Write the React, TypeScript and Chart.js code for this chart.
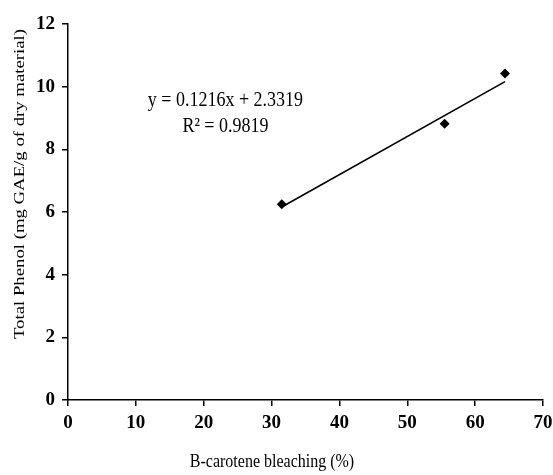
import React, { useEffect, useRef } from "react";
import { Chart, registerables } from "chart.js";

Chart.register(...registerables);

// Data
const pointX = [31.5, 55.5, 64.4];
const pointY = [6.25, 8.82, 10.42];
const trendX = [31.5, 64.4];
const trendY = [6.16, 10.16];
const xTicks = [0, 10, 20, 30, 40, 50, 60, 70];
const yTicks = [0, 2, 4, 6, 8, 10, 12];
const xTitle = "B-carotene bleaching (%)";
const yTitle = "Total Phenol (mg GAE/g of dry material)";
const eqLine1 = "y = 0.1216x + 2.3319";
const eqLine2 = "R² = 0.9819";

const SERIF = "'Liberation Serif', 'Times New Roman', serif";

const textPlugin = {
  id: "customText",
  afterDraw(chart: any) {
    const ctx = chart.ctx as CanvasRenderingContext2D;
    const xs = chart.scales.x;
    const ys = chart.scales.y;
    ctx.save();
    ctx.fillStyle = "#000";
    ctx.textAlign = "center";
    ctx.textBaseline = "middle";

    // Equation text anchored in data space
    const ex = xs.getPixelForValue(23.2);
    const ey1 = ys.getPixelForValue(9.55);
    const ey2 = ys.getPixelForValue(8.72);
    ctx.font = `18px ${SERIF}`;
    ctx.save();
    ctx.translate(ex, ey1);
    ctx.scale(1, 1.2);
    ctx.fillText(eqLine1, 0, 0);
    ctx.restore();
    ctx.save();
    ctx.translate(ex, ey2);
    ctx.scale(1, 1.2);
    ctx.fillText(eqLine2, 0, 0);
    ctx.restore();

    // X title
    ctx.font = `16px ${SERIF}`;
    ctx.save();
    ctx.translate(272, 462);
    ctx.scale(1, 1.15);
    ctx.fillText(xTitle, 0, 0);
    ctx.restore();

    // Y title (rotated)
    ctx.font = `15px ${SERIF}`;
    ctx.save();
    ctx.translate(20, 184);
    ctx.rotate(-Math.PI / 2);
    ctx.scale(1.25, 1);
    ctx.fillText(yTitle, 0, 0);
    ctx.restore();

    ctx.restore();
  },
};

export default function App() {
  const ref = useRef<HTMLCanvasElement>(null);

  useEffect(() => {
    document.body.style.margin = "0";
    const canvas = ref.current!;
    const chart = new Chart(canvas, {
      type: "scatter",
      data: {
        datasets: [
          {
            type: "scatter",
            label: "data",
            data: pointX.map((x, i) => ({ x, y: pointY[i] })),
            pointStyle: "rectRot",
            pointRadius: 5,
            pointBackgroundColor: "#000",
            pointBorderColor: "#000",
            pointBorderWidth: 0,
            order: 1,
          },
          {
            type: "line",
            label: "trend",
            data: trendX.map((x, i) => ({ x, y: trendY[i] })),
            borderColor: "#000",
            borderWidth: 1.6,
            pointRadius: 0,
            fill: false,
            order: 2,
          },
        ],
      },
      plugins: [textPlugin],
      options: {
        responsive: false,
        animation: false,
        events: [],
        layout: { padding: { left: 0, right: 10, top: 24, bottom: 0 } },
        plugins: {
          legend: { display: false },
          tooltip: { enabled: false },
        },
        scales: {
          x: {
            type: "linear",
            min: 0,
            max: 70,
            afterBuildTicks: (s: any) => {
              s.ticks = xTicks.map((v) => ({ value: v }));
            },
            afterFit: (s: any) => {
              s.height = 75;
              s.paddingRight = 0;
              s.paddingLeft = 0;
            },
            grid: {
              display: true,
              drawOnChartArea: false,
              drawTicks: true,
              tickLength: 6,
              color: "#000",
              lineWidth: 1.5,
            },
            border: { display: true, color: "#000", width: 1.5 },
            ticks: {
              color: "#000",
              padding: 6,
              maxRotation: 0,
              font: { family: SERIF, size: 19, weight: "bold" },
            },
          },
          y: {
            type: "linear",
            min: 0,
            max: 12,
            afterBuildTicks: (s: any) => {
              s.ticks = yTicks.map((v) => ({ value: v }));
            },
            afterFit: (s: any) => {
              s.width = 68;
              s.paddingTop = 0;
              s.paddingBottom = 0;
            },
            grid: {
              display: true,
              drawOnChartArea: false,
              drawTicks: true,
              tickLength: 6,
              color: "#000",
              lineWidth: 1.5,
            },
            border: { display: true, color: "#000", width: 1.5 },
            ticks: {
              color: "#000",
              padding: 7,
              font: { family: SERIF, size: 19, weight: "bold" },
            },
          },
        },
      },
    } as any);
    return () => chart.destroy();
  }, []);

  return (
    <div style={{ position: "fixed", left: 0, top: 0, width: 553, height: 475, background: "#fff" }}>
      <canvas ref={ref} width={553} height={475} style={{ display: "block", width: 553, height: 475 }} />
    </div>
  );
}
